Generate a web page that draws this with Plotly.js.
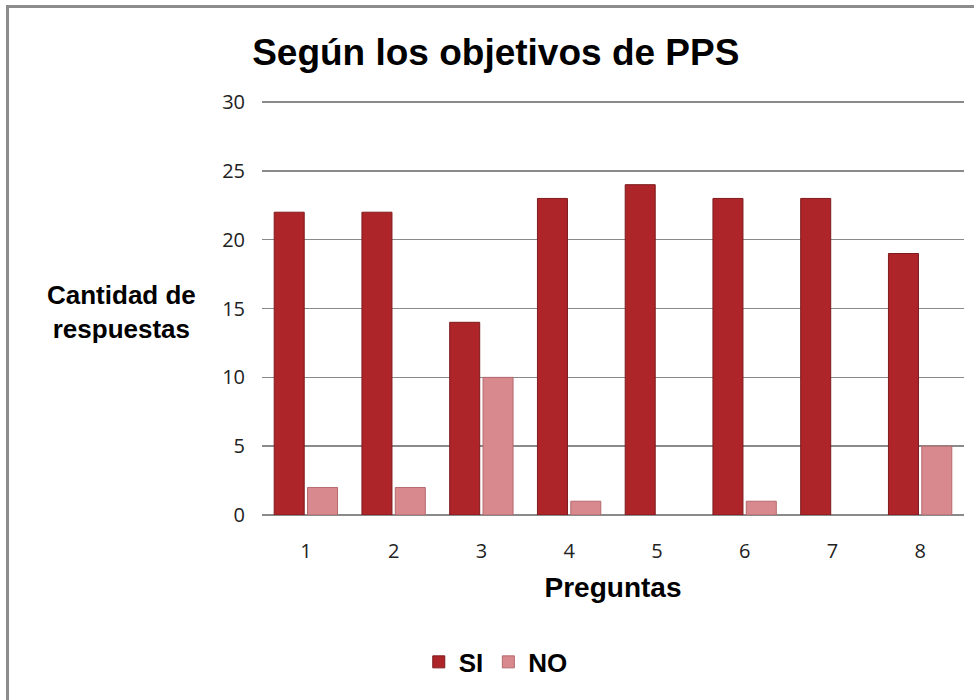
<!DOCTYPE html>
<html>
<head>
<meta charset="utf-8">
<script src="https://cdn.plot.ly/plotly-3.0.1.min.js"></script>
<style>
html,body{margin:0;padding:0;overflow:hidden;background:#fff;}
#frame{position:absolute;left:6px;top:5px;width:1000px;height:720px;border-left:3px solid #8c8c8c;border-top:3px solid #8c8c8c;pointer-events:none;z-index:10;}
#chart{position:absolute;left:0;top:0;width:974px;height:700px;}
</style>
</head>
<body>
<div id="chart"></div>
<div id="frame"></div>
<script>
var categories = ["1","2","3","4","5","6","7","8"];
var siValues = [22,22,14,23,24,23,23,19];
var noValues = [2,2,10,1,0,1,0,5];
var seriesNames = ["<b>SI</b>","<b>NO</b>"];
var yTicks = [0,5,10,15,20,25,30];

function lineWidths(vals){ return vals.map(function(v){ return v > 0 ? 1 : 0; }); }

var traces = [
  {type:'bar', name:seriesNames[0], x:categories, y:siValues,
   marker:{color:'#ad2429', line:{color:'#7e1a1e', width:lineWidths(siValues)}}},
  {type:'bar', name:seriesNames[1], x:categories, y:noValues,
   marker:{color:'#d7898d', line:{color:'#b4696d', width:lineWidths(noValues)}}}
];

var layout = {
  width:974, height:700,
  margin:{l:262, r:10, t:101, b:185},
  paper_bgcolor:'#ffffff', plot_bgcolor:'#ffffff',
  barmode:'group', bargap:0.24, bargroupgap:0.1,
  title:{text:'<b>Según los objetivos de PPS</b>', x:0.509, xanchor:'center', y:0.925, yanchor:'middle',
         font:{family:'Liberation Sans, Arial, sans-serif', size:37, color:'#000'}},
  xaxis:{type:'category', tickfont:{family:'Open Sans, Liberation Sans, sans-serif', size:20, color:'#222'},
         showline:false, ticks:'', showgrid:false, zeroline:false, ticklabelstandoff:22,
         title:{text:'<b>Preguntas</b>', standoff:14, font:{family:'Liberation Sans, Arial, sans-serif', size:28, color:'#000'}}},
  yaxis:{range:[0,30.08], tickvals:yTicks, ticks:'', showgrid:true, gridcolor:'#8a8a8a', gridwidth:1.5,
         zeroline:true, zerolinecolor:'#8a8a8a', zerolinewidth:1.5,
         tickfont:{family:'Open Sans, Liberation Sans, sans-serif', size:20, color:'#222'}, ticklabelstandoff:16},
  showlegend:true,
  legend:{orientation:'h', x:0.333, xanchor:'center', y:-0.355, yanchor:'middle',
          font:{family:'Liberation Sans, Arial, sans-serif', size:26, color:'#000'}, itemwidth:30, traceorder:'normal'},
  annotations:[
    {xref:'paper', yref:'paper', x:-0.2, y:0.49, xanchor:'center', yanchor:'middle', showarrow:false,
     text:'<b>Cantidad de<br>respuestas</b>', align:'center',
     font:{family:'Liberation Sans, Arial, sans-serif', size:26, color:'#000'}}
  ]
};

Plotly.newPlot('chart', traces, layout, {displayModeBar:false, staticPlot:true});
</script>
</body>
</html>
